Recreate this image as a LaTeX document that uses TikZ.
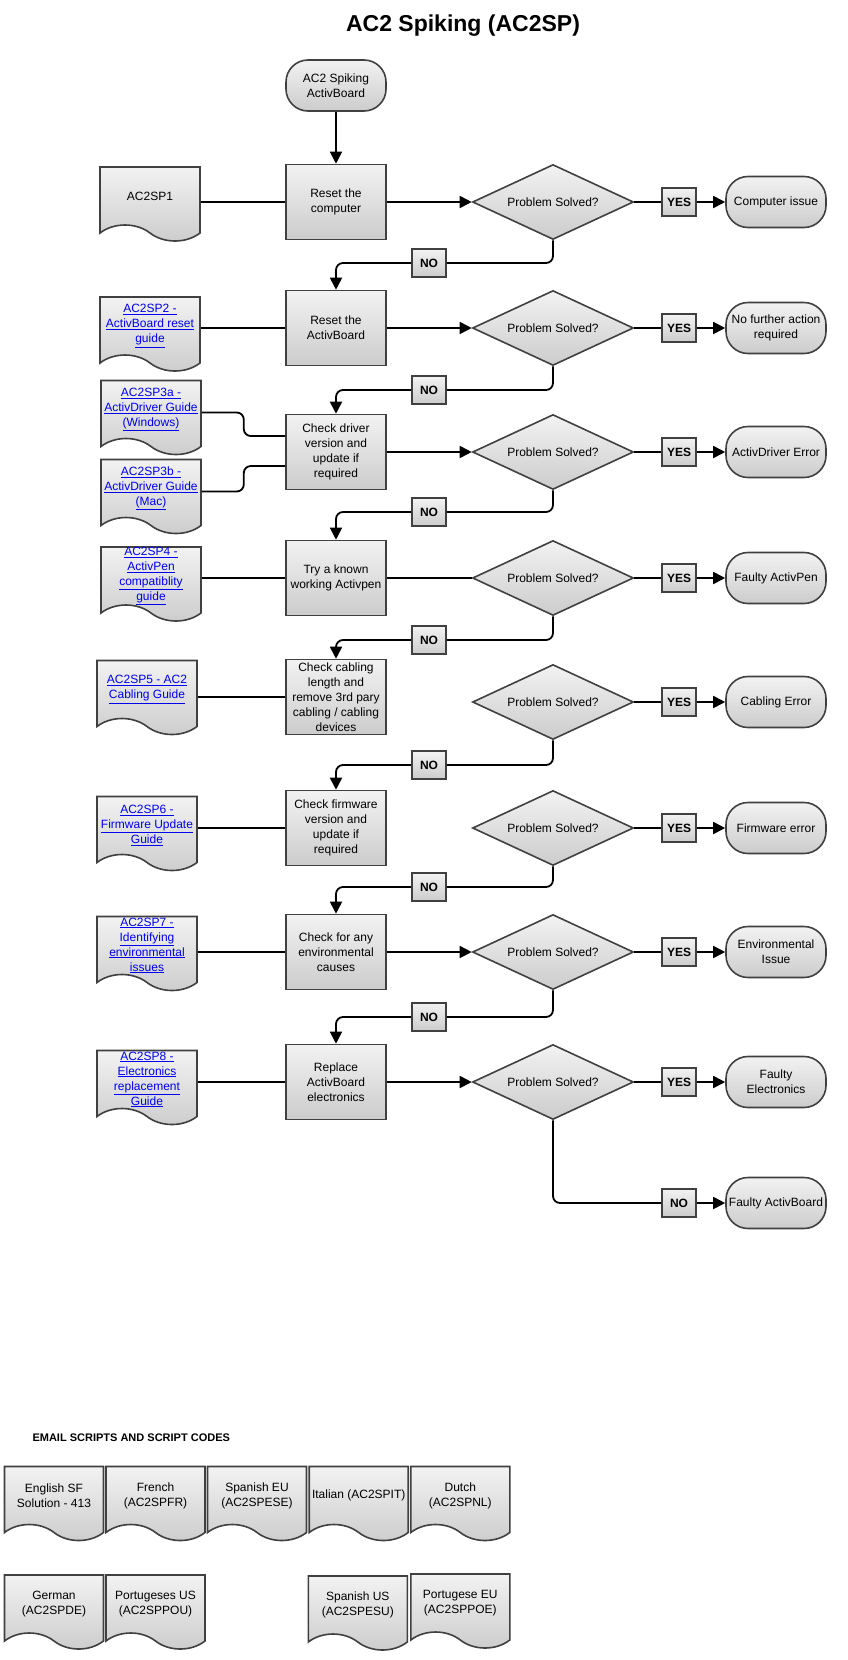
\documentclass[tikz,border=0pt]{standalone}
\usepackage{fontspec}
\setmainfont{Liberation Sans}
\usetikzlibrary{shapes.geometric,shapes.symbols,arrows.meta}
\definecolor{linkblue}{RGB}{0,0,238}
\definecolor{edgegray}{RGB}{64,64,64}
\newcommand{\lnk}[1]{\textcolor{linkblue}{\underline{#1}}}

\begin{document}
\begin{tikzpicture}[x=1pt,y=-1pt,
  font=\fontsize{12}{15}\selectfont,
  shaded/.style={draw=edgegray,line width=1.6pt,top color=black!5,bottom color=black!20},
  stepbox/.style={shaded,rectangle,minimum width=100pt,minimum height=75pt,inner sep=0pt,align=center},
  ask/.style={shaded,diamond,shape aspect=2.2,minimum width=161pt,minimum height=75pt,inner sep=0pt},
  endbox/.style={shaded,rectangle,rounded corners=22pt,minimum width=100pt,minimum height=51pt,inner sep=0pt,align=center},
  tag/.style={shaded,rectangle,minimum width=34pt,minimum height=28pt,inner sep=0pt,font=\fontsize{12}{15}\selectfont\bfseries},
  doc/.style={shaded,tape,tape bend top=none,tape bend bottom=out and in,tape bend height=16pt,minimum width=100pt,minimum height=74pt,inner sep=0pt,align=center},
  link/.style={line width=1.8pt,rounded corners=7pt},
  arr/.style={link,-{Triangle[length=12pt,width=12pt]}}]
\path[use as bounding box,fill=white] (0,0) rectangle (848,1660);
\node[anchor=base,font=\fontsize{23}{28}\selectfont\bfseries] (title) at (463,31.7) {AC2 Spiking (AC2SP)};
\node[endbox] (start) at (336,85.5) {AC2 Spiking\\ActivBoard};
\foreach \i/\y/\t in {1/202/{Reset the\\computer},2/328/{Reset the\\ActivBoard},
    3/452/{Check driver\\version and\\update if\\required},4/578/{Try a known\\working Activpen},
    5/697/{Check cabling\\length and\\remove 3rd pary\\cabling / cabling\\devices},
    6/828/{Check firmware\\version and\\update if\\required},7/952/{Check for any\\environmental\\causes},
    8/1082/{Replace\\ActivBoard\\electronics}}
  \node[stepbox] (b\i) at (336,\y) {\t};
\foreach \i/\y/\t in {1/202/Computer issue,2/328/{No further action\\required},3/452/ActivDriver Error,
    4/578/Faulty ActivPen,5/702/Cabling Error,6/828/Firmware error,7/952/{Environmental\\Issue},
    8/1082/{Faulty\\Electronics}} {
  \node[ask] (d\i) at (553,\y) {Problem Solved?};
  \node[tag] (y\i) at (679,\y) {YES};
  \node[endbox] (t\i) at (776,\y) {\t};
  \draw[link] (d\i.east) -- (y\i.west);
  \draw[arr] (y\i.east) -- (t\i.west);
}
\node[tag] (n8) at (679,1203) {NO};
\node[endbox] (t9) at (776,1203) {Faulty ActivBoard};
\foreach \i/\j/\y in {1/2/263,2/3/390,3/4/512,4/5/640,5/6/765,6/7/887,7/8/1017} {
  \node[tag] (n\i) at (429,\y) {NO};
  \draw[link] (d\i.south) |- (n\i.east);
  \draw[arr] (n\i.west) -| (b\j.north);
}
\draw[link] (d8.south) |- (n8.west);
\draw[arr] (n8.east) -- (t9.west);
\draw[arr] (start) -- (b1);
\foreach \i in {1,2,3,7,8} \draw[arr] (b\i) -- (d\i);
\draw[link] (b4) -- (d4);
% guides on the left
\node[doc] (sp1) at (150,196) {AC2SP1};
\node[doc] (sp2) at (150,326) {\lnk{AC2SP2 -}\\\lnk{ActivBoard reset}\\\lnk{guide}};
\node[doc] (sp3a) at (151,409.5) {\lnk{AC2SP3a -}\\\lnk{ActivDriver Guide}\\\lnk{(Windows)}};
\node[doc] (sp3b) at (151,488.5) {\lnk{AC2SP3b -}\\\lnk{ActivDriver Guide}\\\lnk{(Mac)}};
\node[doc] (sp4) at (151,576) {\lnk{AC2SP4 -}\\\lnk{ActivPen}\\\lnk{compatiblity}\\\lnk{guide}};
\node[doc] (sp5) at (147,689.5) {\lnk{AC2SP5 - AC2}\\\lnk{Cabling Guide}};
\node[doc] (sp6) at (147,825.5) {\lnk{AC2SP6 -}\\\lnk{Firmware Update}\\\lnk{Guide}};
\node[doc] (sp7) at (147,945.5) {\lnk{AC2SP7 -}\\\lnk{Identifying}\\\lnk{environmental}\\\lnk{issues}};
\node[doc] (sp8) at (147,1079.5) {\lnk{AC2SP8 -}\\\lnk{Electronics}\\\lnk{replacement}\\\lnk{Guide}};
\foreach \n/\i in {sp1/1,sp2/2,sp4/4,sp5/5,sp6/6,sp7/7,sp8/8}
  \draw[link] (\n.east |- b\i) -- (b\i.west);
\draw[link] ([yshift=-3pt]sp3a.east) -- ++(42,0) |- ([yshift=16pt]b3.west);
\draw[link] ([yshift=-3pt]sp3b.east) -- ++(42,0) |- ([yshift=-14pt]b3.west);
% email scripts
\node[anchor=base west,font=\fontsize{11}{13}\selectfont\bfseries] (mailhead) at (29,1441) {EMAIL SCRIPTS AND SCRIPT CODES};
\foreach \n/\x/\y/\t in {en/54/1495.5/{English SF\\Solution - 413},fr/155.5/1495.5/{French\\(AC2SPFR)},
    ese/257/1495.5/{Spanish EU\\(AC2SPESE)},it/358.7/1495.5/{Italian (AC2SPIT)},nl/460.3/1495.5/{Dutch\\(AC2SPNL)},
    de/54/1604/{German\\(AC2SPDE)},pou/155.5/1604/{Portugeses US\\(AC2SPPOU)},
    esu/357.8/1605/{Spanish US\\(AC2SPESU)},poe/460.3/1603/{Portugese EU\\(AC2SPPOE)}}
  \node[doc,minimum width=99pt] (\n) at (\x,\y) {\t};
\end{tikzpicture}
\end{document}
